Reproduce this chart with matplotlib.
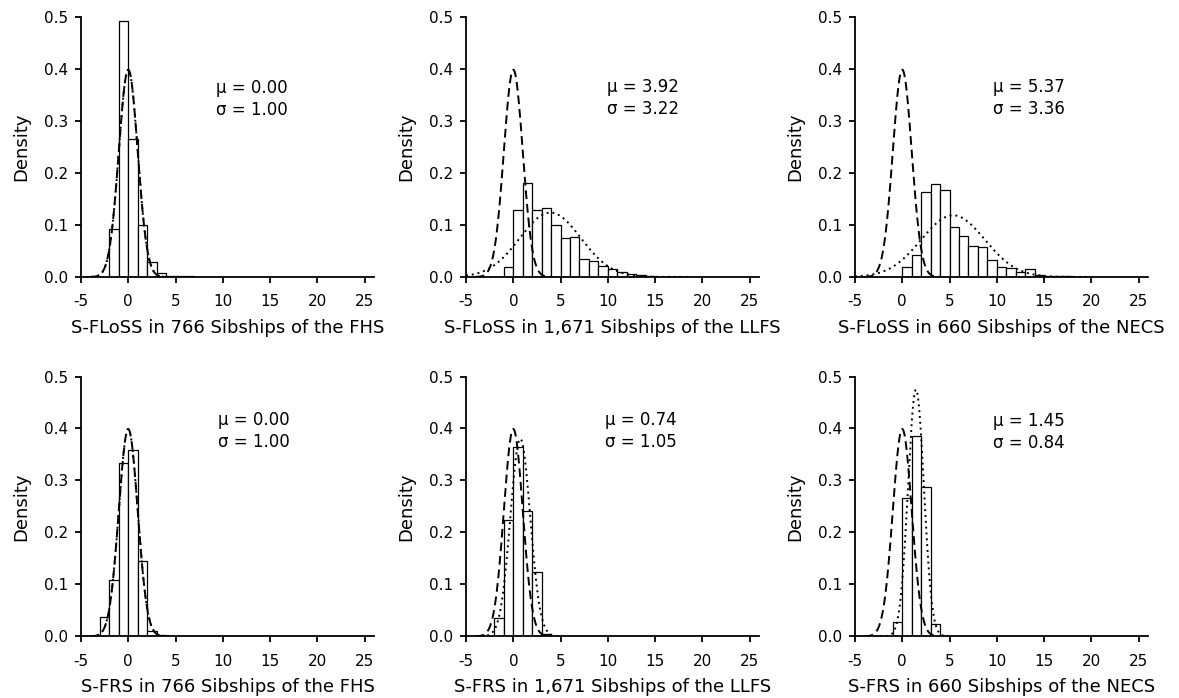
import numpy as np
import matplotlib
matplotlib.use("Agg")
import matplotlib.pyplot as plt

plt.rcParams['font.family'] = ['DejaVu Sans']
plt.rcParams['axes.unicode_minus'] = False

# histogram bars: first bin left edge, bin width 1, densities
floss_fhs_left = -2
floss_fhs = [0.093, 0.492, 0.265, 0.100, 0.028, 0.007, 0.001, 0.001, 0.002]
floss_llfs_left = -1
floss_llfs = [0.020, 0.129, 0.180, 0.128, 0.133, 0.100, 0.075, 0.077, 0.035,
              0.030, 0.022, 0.015, 0.010, 0.006, 0.004, 0.002]
floss_necs_left = 0
floss_necs = [0.020, 0.043, 0.164, 0.179, 0.167, 0.097, 0.078, 0.060, 0.058,
              0.033, 0.019, 0.018, 0.009, 0.016, 0.003, 0.002, 0.001, 0.002]
frs_fhs_left = -3
frs_fhs = [0.037, 0.108, 0.334, 0.359, 0.144, 0.011, 0.002]
frs_llfs_left = -2
frs_llfs = [0.035, 0.223, 0.365, 0.242, 0.123, 0.005]
frs_necs_left = -1
frs_necs = [0.028, 0.266, 0.386, 0.287, 0.023]

# fitted normal parameters
mus = [0.00, 3.92, 5.37, 0.00, 0.74, 1.45]
sigmas = [1.00, 3.22, 3.36, 1.00, 1.05, 0.84]

xlabels = ["S-FLoSS in 766 Sibships of the FHS",
           "S-FLoSS in 1,671 Sibships of the LLFS",
           "S-FLoSS in 660 Sibships of the NECS",
           "S-FRS in 766 Sibships of the FHS",
           "S-FRS in 1,671 Sibships of the LLFS",
           "S-FRS in 660 Sibships of the NECS"]

panels = [(floss_fhs_left, floss_fhs), (floss_llfs_left, floss_llfs),
          (floss_necs_left, floss_necs), (frs_fhs_left, frs_fhs),
          (frs_llfs_left, frs_llfs), (frs_necs_left, frs_necs)]

# baseline of the mu line, and left x of the annotation
text_y = [0.354, 0.356, 0.356, 0.406, 0.407, 0.404]
text_x = [9.3, 9.9, 9.65, 9.5, 9.65, 9.55]


def npdf(x, m, s):
    return np.exp(-0.5 * ((x - m) / s) ** 2) / (s * np.sqrt(2 * np.pi))


fig = plt.figure(figsize=(11.79, 6.98), dpi=100)
lefts = [0.0687, 0.3953, 0.7252]
bottoms = [0.6032, 0.0884]
w, h = 0.2485, 0.3722

for i, (start, dens) in enumerate(panels):
    ax = fig.add_axes([lefts[i % 3], bottoms[i // 3], w, h])
    edges = start + np.arange(len(dens))
    ax.bar(edges, dens, width=1, align='edge', color='white',
           edgecolor='black', linewidth=0.9, zorder=2)

    xs = np.linspace(-4, 4, 300)
    ax.plot(xs, npdf(xs, 0, 1), color='black', lw=1.4,
            linestyle=(0, (4.5, 2.5)), zorder=3)
    m, s = mus[i], sigmas[i]
    xd = np.linspace(max(-5, m - 4.5 * s), m + 4.5 * s, 400)
    ax.plot(xd, npdf(xd, m, s), color='black', lw=1.4,
            linestyle=(0, (1, 2)), zorder=3)

    ax.text(text_x[i], text_y[i], "\u03bc = %.2f" % m,
            fontsize=12, va='baseline', ha='left')
    ax.text(text_x[i], text_y[i] - 0.042, "\u03c3 = %.2f" % s,
            fontsize=12, va='baseline', ha='left')

    ax.set_xlim(-5, 26)
    ax.set_ylim(0, 0.5)
    ax.set_xticks([-5, 0, 5, 10, 15, 20, 25])
    ax.set_yticks([0.0, 0.1, 0.2, 0.3, 0.4, 0.5])
    ax.set_yticklabels(["0.0", "0.1", "0.2", "0.3", "0.4", "0.5"])
    ax.spines['top'].set_visible(False)
    ax.spines['right'].set_visible(False)
    ax.spines['left'].set_linewidth(1.3)
    ax.spines['bottom'].set_linewidth(1.3)
    ax.tick_params(direction='out', length=4.5, width=1.3, labelsize=11)
    ax.tick_params(axis='x', pad=8)
    ax.tick_params(axis='y', pad=4.5)
    ax.set_xlabel(xlabels[i], fontsize=13, labelpad=7)
    ax.set_ylabel("Density", fontsize=13, labelpad=10)

fig.savefig("out.png", dpi=100)
